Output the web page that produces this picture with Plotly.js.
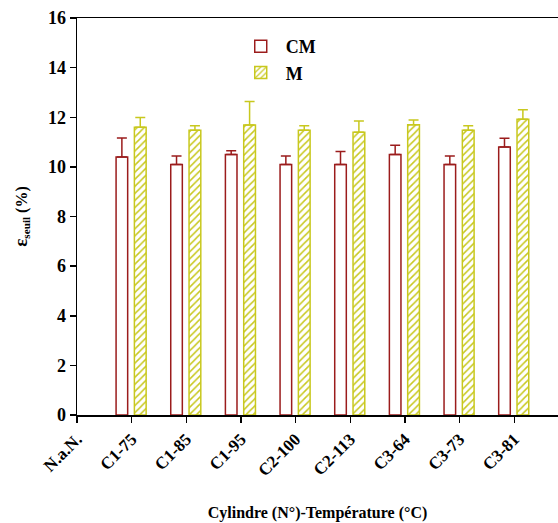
<!DOCTYPE html>
<html>
<head>
<meta charset="utf-8">
<script src="https://cdn.plot.ly/plotly-3.0.1.min.js"></script>
<style>html,body{margin:0;padding:0;background:#fff;}#chart{width:558px;height:523px;}</style>
</head>
<body>
<div id="chart"></div>
<script>
// Categories (x ticks)
const categories = ["N.a.N.", "C1-75", "C1-85", "C1-95", "C2-100", "C2-113", "C3-64", "C3-73", "C3-81"];
// Series CM
const cmValues = [null, 10.4, 10.1, 10.5, 10.1, 10.1, 10.5, 10.1, 10.8];
const cmErrors = [null, 0.76, 0.34, 0.15, 0.34, 0.52, 0.37, 0.34, 0.35];
// Series M
const mValues = [null, 11.6, 11.48, 11.69, 11.48, 11.4, 11.7, 11.48, 11.92];
const mErrors = [null, 0.39, 0.18, 0.94, 0.18, 0.45, 0.19, 0.18, 0.38];
const yTicks = [0, 2, 4, 6, 8, 10, 12, 14, 16];

const FONT = "Liberation Serif, Times New Roman, serif";
const RED = "#9b1c1c";
const YEL = "#c8c81e";

const zeros = categories.map(() => 0);

const traceCM = {
  type: "bar", name: "<b>CM</b>", x: categories, y: cmValues,
  offset: -0.285, width: 0.212,
  marker: { color: "#ffffff", line: { color: RED, width: 1.5 } },
  error_y: { type: "data", symmetric: false, array: cmErrors, arrayminus: zeros,
             color: RED, thickness: 1.5, width: 5 }
};
const traceM = {
  type: "bar", name: "<b>M</b>", x: categories, y: mValues,
  offset: 0.05, width: 0.215,
  marker: { color: "#ffffff",
            pattern: { shape: "/", fgcolor: YEL, bgcolor: "#ffffff", size: 5, solidity: 0.3 },
            line: { color: YEL, width: 1.5 } },
  error_y: { type: "data", symmetric: false, array: mErrors, arrayminus: zeros,
             color: YEL, thickness: 1.5, width: 5 }
};

const layout = {
  width: 558, height: 523,
  margin: { l: 77, r: 0, t: 18, b: 108 },
  paper_bgcolor: "#ffffff", plot_bgcolor: "#ffffff",
  showlegend: true,
  legend: { x: 0.33, y: 0.975, xanchor: "left", yanchor: "top",
            font: { family: FONT, size: 18, color: "#000" },
            bgcolor: "rgba(0,0,0,0)", tracegroupgap: 2, itemwidth: 40 },
  barmode: "overlay",
  xaxis: {
    type: "category", categoryorder: "array", categoryarray: categories,
    tickvals: categories, ticktext: categories.map(c => "<b>" + c + "</b>"),
    range: [0, 8.8], showgrid: false, zeroline: false,
    showline: true, linecolor: "#000", linewidth: 1.5, mirror: true,
    ticks: "outside", ticklen: 6, tickwidth: 1.5, tickcolor: "#000",
    tickangle: -45,
    tickfont: { family: FONT, size: 17, color: "#000" },
    title: { text: "<b>Cylindre (N°)-Température (°C)</b>", standoff: 28,
             font: { family: FONT, size: 16, color: "#000" } }
  },
  yaxis: {
    range: [0, 16], tickvals: yTicks, ticktext: yTicks.map(v => "<b>" + v + "</b>"),
    showgrid: false, zeroline: false,
    showline: true, linecolor: "#000", linewidth: 1.5,
    ticks: "outside", ticklen: 6, tickwidth: 1.5, tickcolor: "#000",
    tickfont: { family: FONT, size: 18, color: "#000" },
    title: { text: "<b><span style='font-size:19px'>ε</span><sub>seuil</sub> (%)</b>", standoff: 16,
             font: { family: FONT, size: 16, color: "#000" } }
  }
};

Plotly.newPlot("chart", [traceCM, traceM], layout, { displayModeBar: false, staticPlot: true });
</script>
</body>
</html>
